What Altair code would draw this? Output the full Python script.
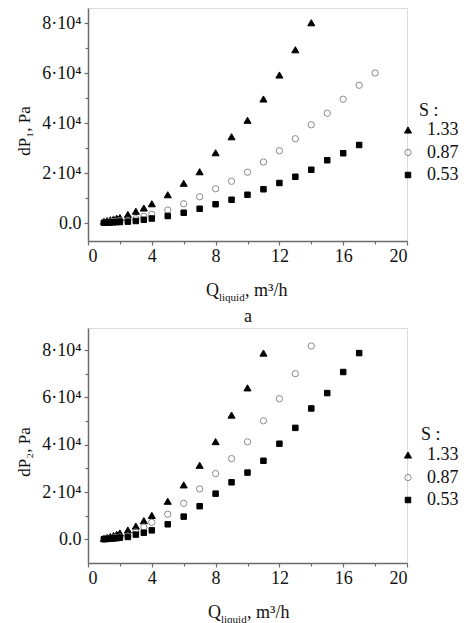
import altair as alt
import pandas as pd

SERIF = "Liberation Serif"
INK = "#111111"
AXIS_GRAY = "#6b6b6b"
FS = 18

S_LEVELS = ["1.33", "0.87", "0.53"]
SHAPES = ["triangle-up", "circle", "square"]
FILLS = ["black", "transparent", "black"]
STROKES = ["black", "#8a8a8a", "black"]
SIZES = [50, 30, 30]

# ---- panel a: dP1 vs liquid flow ----
q1_133 = [1.0, 1.2, 1.4, 1.6, 1.8, 2.0, 2.5, 3.0, 3.5, 4.0,
          5, 6, 7, 8, 9, 10, 11, 12, 13, 14]
dp1_133 = [700, 1000, 1300, 1600, 1900, 2200, 3400, 4700, 6000, 7700,
           11300, 15900, 20500, 28100, 34500, 41100, 49600, 59200, 69300, 80100]

q1_087 = [1.0, 1.2, 1.4, 1.6, 1.8, 2.0, 2.5, 3.0, 3.5, 4.0,
          5, 6, 7, 8, 9, 10, 11, 12, 13, 14, 15, 16, 17, 18]
dp1_087 = [200, 300, 450, 600, 750, 900, 1100, 1700, 2700, 3500,
           5200, 7700, 10500, 13700, 16700, 20300, 24400, 28900, 33700, 39300,
           43900, 49500, 55100, 60000]

q1_053 = [1.0, 1.2, 1.4, 1.6, 1.8, 2.0, 2.5, 3.0, 3.5, 4.0,
          5, 6, 7, 8, 9, 10, 11, 12, 13, 14, 15, 16, 17]
dp1_053 = [100, 150, 200, 300, 350, 400, 550, 800, 1300, 1800,
           2800, 4100, 5700, 7500, 9300, 11300, 13500, 16000, 18500, 21300,
           25100, 27900, 31200]

# ---- panel b: dP2 vs liquid flow ----
q2_133 = [1.0, 1.2, 1.4, 1.6, 1.8, 2.0, 2.5, 3.0, 3.5, 4.0,
          5, 6, 7, 8, 9, 10, 11]
dp2_133 = [400, 800, 1200, 1600, 2100, 2700, 3950, 5600, 7900, 10100,
           16100, 23000, 31300, 41300, 52500, 64000, 78700]

q2_087 = [1.0, 1.2, 1.4, 1.6, 1.8, 2.0, 2.5, 3.0, 3.5, 4.0,
          5, 6, 7, 8, 9, 10, 11, 12, 13, 14]
dp2_087 = [0, 200, 400, 600, 800, 1000, 1400, 3100, 5200, 7200,
           10600, 15200, 21300, 27800, 34100, 41200, 50100, 59400, 70000, 81700]

q2_053 = [1.0, 1.2, 1.4, 1.6, 1.8, 2.0, 2.5, 3.0, 3.5, 4.0,
          5, 6, 7, 8, 9, 10, 11, 12, 13, 14, 15, 16, 17]
dp2_053 = [100, 200, 300, 400, 500, 700, 1000, 2000, 2800, 3800,
           6350, 9600, 14000, 19300, 24100, 28200, 33200, 40400, 47100, 55300,
           61800, 70700, 78700]

X_TICKS = [0, 2, 4, 6, 8, 10, 12, 14, 16, 18, 20]
Y_TICKS = [0, 10000, 20000, 30000, 40000, 50000, 60000, 70000, 80000]

PLOT_W = 319


def frame(series):
    rows = []
    for s, qs, vals in series:
        for q, v in zip(qs, vals):
            rows.append({"Q": q, "dP": v, "S": s})
    return pd.DataFrame(rows)


def label(text, x, y, size=FS, align="left", baseline="alphabetic"):
    return alt.Chart(alt.Data(values=[{"t": text}])).mark_text(
        font=SERIF, fontSize=size, color=INK, align=align, baseline=baseline,
    ).encode(x=alt.value(x), y=alt.value(y), text="t:N")


def panel(df, ydomain, height, ytitle, legend_y, s_xy, q_xy, extra=None):
    legend = alt.Legend(
        orient="none", legendX=PLOT_W - 8, legendY=legend_y, title=None,
        labelFont=SERIF, labelFontSize=FS, labelColor=INK,
        labelOffset=10, rowPadding=4.5, padding=0, symbolStrokeWidth=1,
    )
    x_axis = alt.Axis(
        values=X_TICKS, title=None, grid=False,
        labelExpr="datum.value % 4 === 0 ? datum.value : ''",
        labelFont=SERIF, labelFontSize=FS, labelColor=INK, labelPadding=2,
        domainColor=AXIS_GRAY, domainWidth=1.5,
        tickColor=AXIS_GRAY, tickWidth=1.2,
        tickSize={"condition": {"test": "datum.value % 4 === 0", "value": 4}, "value": 3},
    )
    y_axis = alt.Axis(
        values=Y_TICKS, grid=False, title=ytitle,
        labelExpr="datum.value === 0 ? '0.0' : (datum.value % 20000 === 0 ? (datum.value / 10000) + '·10⁴' : '')",
        labelFont=SERIF, labelFontSize=FS, labelColor=INK, labelPadding=3,
        domainColor=AXIS_GRAY, domainWidth=1.5,
        tickColor=AXIS_GRAY, tickWidth=1.2,
        tickSize={"condition": {"test": "datum.value % 20000 === 0", "value": 4}, "value": 3},
        titleFont=SERIF, titleFontSize=17, titleFontWeight="normal", titleColor=INK,
        titleX=-64, titleY=height / 2 + 6, titleBaseline="middle", titleAngle=270,
    )
    pts = alt.Chart(df).mark_point(strokeWidth=1, opacity=1).encode(
        x=alt.X("Q:Q", scale=alt.Scale(domain=[0, 20], nice=False), axis=x_axis),
        y=alt.Y("dP:Q", scale=alt.Scale(domain=ydomain, nice=False, zero=False), axis=y_axis),
        shape=alt.Shape("S:N", scale=alt.Scale(domain=S_LEVELS, range=SHAPES), legend=legend),
        fill=alt.Fill("S:N", scale=alt.Scale(domain=S_LEVELS, range=FILLS), legend=legend),
        stroke=alt.Stroke("S:N", scale=alt.Scale(domain=S_LEVELS, range=STROKES), legend=legend),
        size=alt.Size("S:N", scale=alt.Scale(domain=S_LEVELS, range=SIZES), legend=legend),
    )
    qx, qy = q_xy
    layers = [
        pts,
        label("S :", s_xy[0], s_xy[1]),
        label("Q", qx, qy, align="right"),
        label("liquid", qx, qy + 5, size=11),
        label(", m³/h", qx + 26, qy),
    ]
    if extra is not None:
        layers.append(extra)
    return alt.layer(*layers).properties(width=PLOT_W, height=height).resolve_legend(
        shape="independent", fill="independent", stroke="independent", size="independent"
    )


df1 = frame([("1.33", q1_133, dp1_133), ("0.87", q1_087, dp1_087), ("0.53", q1_053, dp1_053)])
df2 = frame([("1.33", q2_133, dp2_133), ("0.87", q2_087, dp2_087), ("0.53", q2_053, dp2_053)])

top = panel(df1, [-7200, 86000], 233, "dP₁, Pa", 113, (331, 108), (131, 288),
            extra=label("a", 160, 314, align="center"))
bottom = panel(df2, [-10000, 89300], 235, "dP₂, Pa", 118, (333, 112), (133, 290))

chart = alt.vconcat(top, bottom, spacing=0).resolve_legend(
    shape="independent", fill="independent", stroke="independent", size="independent"
).resolve_scale(
    shape="independent", fill="independent", stroke="independent", size="independent"
).properties(
    padding={"left": 14, "top": 7, "right": 0, "bottom": 0}
).configure_view(stroke=None).configure(background="white")

chart.save("out.html", embed_options={"renderer": "svg", "actions": False})
